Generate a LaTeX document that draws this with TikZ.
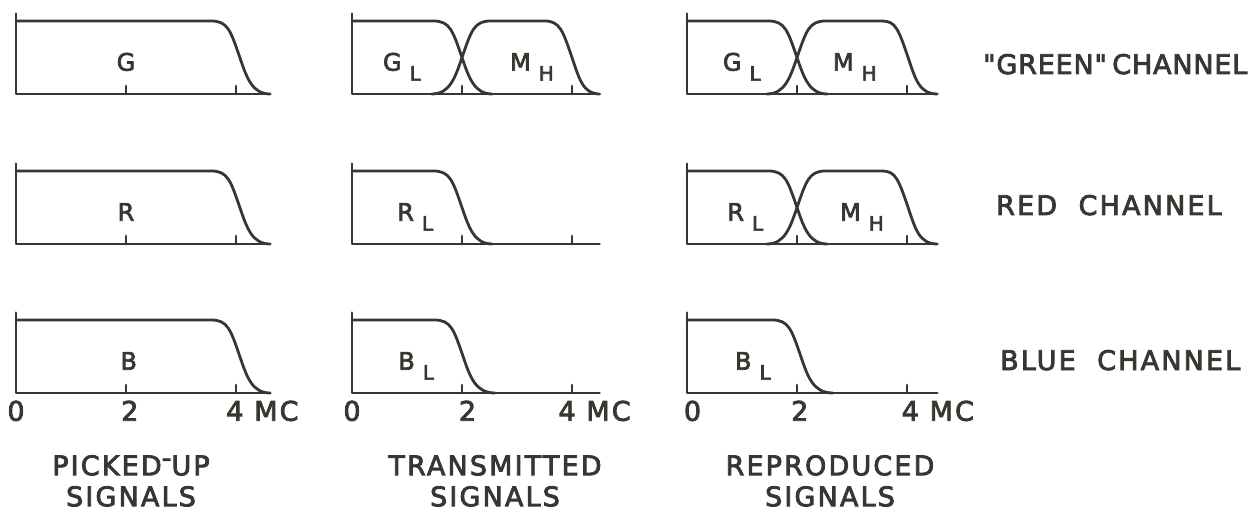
\documentclass[tikz,border=0pt]{standalone}
\usepackage{fontspec}
\setmainfont{DejaVu Sans}[LetterSpace=8, FakeBold=3]
\usepackage{tikz}
\usetikzlibrary{positioning}
\definecolor{inkline}{RGB}{55,55,50}
\newcommand{\sigsub}[1]{\hspace{8pt}\raisebox{-10pt}{\fontsize{20}{20}\selectfont #1}}

\begin{document}
\begin{tikzpicture}[x=1pt, y=1pt,
  curve/.style={line width=2.8pt, color=inkline, line cap=round, line join=round},
  lettering/.style={font=\fontsize{27}{31}\selectfont, text=inkline, inner sep=0pt},
  sig/.style={font=\fontsize{24}{26}\selectfont, text=inkline, inner sep=0pt,
    anchor=base west},
  graph/.style={x=55pt, y=73pt}]
\useasboundingbox (0,0) rectangle (1257,512);

% picked-up signals
\begin{scope}[shift={(16,418)}, graph]
\draw[curve] (0,1.1) -- (0,0) -- (4.62,0);
\draw[curve] (2,0) -- (2,0.11) (4,0) -- (4,0.11);
\draw[curve] (0,1) -- (3.55,1) .. controls (3.85,1) and (3.9,0.87) .. (4.07,0.5)
  .. controls (4.2,0.21) and (4.3,0) .. (4.62,0);
\node[sig, anchor=base] (g1) at (2,0.32) {G};
\end{scope}
\begin{scope}[shift={(16,268)}, graph]
\draw[curve] (0,1.1) -- (0,0) -- (4.62,0);
\draw[curve] (2,0) -- (2,0.11) (4,0) -- (4,0.11);
\draw[curve] (0,1) -- (3.55,1) .. controls (3.85,1) and (3.9,0.87) .. (4.07,0.5)
  .. controls (4.2,0.21) and (4.3,0) .. (4.62,0);
\node[sig, anchor=base] (r1) at (2,0.32) {R};
\end{scope}
\begin{scope}[shift={(16,119)}, graph]
\draw[curve] (0,1.1) -- (0,0) -- (4.62,0);
\draw[curve] (2,0) -- (2,0.11) (4,0) -- (4,0.11);
\draw[curve] (0,1) -- (3.55,1) .. controls (3.85,1) and (3.9,0.87) .. (4.07,0.5)
  .. controls (4.2,0.21) and (4.3,0) .. (4.62,0);
\node[sig, anchor=base] (b1) at (2.05,0.32) {B};
\node[lettering, anchor=base] (zero1) at (0,-0.38) {0};
\node[lettering, anchor=base] (two1) at (2.07,-0.38) {2};
\node[lettering, anchor=base west] (four1) at (3.82,-0.38) {4 MC};
\end{scope}

% transmitted signals
\begin{scope}[shift={(352,418)}, graph]
\draw[curve] (0,1.1) -- (0,0) -- (4.5,0);
\draw[curve] (2,0) -- (2,0.11) (4,0) -- (4,0.11);
\draw[curve] (0,1) -- (1.48,1) .. controls (1.78,1) and (1.83,0.87) .. (2,0.5)
  .. controls (2.13,0.21) and (2.23,0) .. (2.55,0);
\draw[curve] (1.45,0) .. controls (1.77,0) and (1.87,0.21) .. (2,0.5)
  .. controls (2.17,0.87) and (2.22,1) .. (2.52,1) -- (3.5,1)
  .. controls (3.78,1) and (3.83,0.87) .. (4,0.5)
  .. controls (4.13,0.21) and (4.2,0) .. (4.5,0);
\node[sig] (gl2) at (0.56,0.32) {G\sigsub{L}};
\node[sig] (mh2) at (2.87,0.32) {M\sigsub{H}};
\end{scope}
\begin{scope}[shift={(352,268)}, graph]
\draw[curve] (0,1.1) -- (0,0) -- (4.5,0);
\draw[curve] (2,0) -- (2,0.11) (4,0) -- (4,0.11);
\draw[curve] (0,1) -- (1.48,1) .. controls (1.78,1) and (1.83,0.87) .. (2,0.5)
  .. controls (2.13,0.21) and (2.23,0) .. (2.55,0);
\node[sig] (rl2) at (0.82,0.32) {R\sigsub{L}};
\end{scope}
\begin{scope}[shift={(352,119)}, graph]
\draw[curve] (0,1.1) -- (0,0) -- (4.5,0);
\draw[curve] (2,0) -- (2,0.11) (4,0) -- (4,0.11);
\draw[curve] (0,1) -- (1.5,1) .. controls (1.8,1) and (1.85,0.87) .. (2.02,0.5)
  .. controls (2.15,0.21) and (2.25,0) .. (2.6,0);
\node[sig] (bl2) at (0.84,0.32) {B\sigsub{L}};
\node[lettering, anchor=base] (zero2) at (0,-0.38) {0};
\node[lettering, anchor=base] (two2) at (2.1,-0.38) {2};
\node[lettering, anchor=base west] (four2) at (3.75,-0.38) {4 MC};
\end{scope}

% reproduced signals
\begin{scope}[shift={(687,418)}, graph]
\draw[curve] (0,1.1) -- (0,0) -- (4.55,0);
\draw[curve] (2,0) -- (2,0.11) (4,0) -- (4,0.11);
\draw[curve] (0,1) -- (1.48,1) .. controls (1.78,1) and (1.83,0.87) .. (2,0.5)
  .. controls (2.13,0.21) and (2.23,0) .. (2.55,0);
\draw[curve] (1.45,0) .. controls (1.77,0) and (1.87,0.21) .. (2,0.5)
  .. controls (2.17,0.87) and (2.22,1) .. (2.52,1) -- (3.55,1)
  .. controls (3.8,1) and (3.85,0.87) .. (4.02,0.5)
  .. controls (4.15,0.21) and (4.22,0) .. (4.55,0);
\node[sig] (gl3) at (0.65,0.32) {G\sigsub{L}};
\node[sig] (mh3) at (2.65,0.32) {M\sigsub{H}};
\end{scope}
\begin{scope}[shift={(687,268)}, graph]
\draw[curve] (0,1.1) -- (0,0) -- (4.55,0);
\draw[curve] (2,0) -- (2,0.11) (4,0) -- (4,0.11);
\draw[curve] (0,1) -- (1.48,1) .. controls (1.78,1) and (1.83,0.87) .. (2,0.5)
  .. controls (2.13,0.21) and (2.23,0) .. (2.55,0);
\draw[curve] (1.45,0) .. controls (1.77,0) and (1.87,0.21) .. (2,0.5)
  .. controls (2.17,0.87) and (2.22,1) .. (2.52,1) -- (3.55,1)
  .. controls (3.8,1) and (3.85,0.87) .. (4.02,0.5)
  .. controls (4.15,0.21) and (4.22,0) .. (4.55,0);
\node[sig] (rl3) at (0.73,0.32) {R\sigsub{L}};
\node[sig] (mh3b) at (2.78,0.32) {M\sigsub{H}};
\end{scope}
\begin{scope}[shift={(687,119)}, graph]
\draw[curve] (0,1.1) -- (0,0) -- (4.55,0);
\draw[curve] (2,0) -- (2,0.11) (4,0) -- (4,0.11);
\draw[curve] (0,1) -- (1.55,1) .. controls (1.85,1) and (1.9,0.87) .. (2.07,0.5)
  .. controls (2.2,0.21) and (2.3,0) .. (2.65,0);
\node[sig] (bl3) at (0.87,0.32) {B\sigsub{L}};
\node[lettering, anchor=base] (zero3) at (0.1,-0.38) {0};
\node[lettering, anchor=base] (two3) at (2.05,-0.38) {2};
\node[lettering, anchor=base west] (four3) at (3.9,-0.38) {4 MC};
\end{scope}

% column titles
\node[lettering, align=center, anchor=north] (pick) at (131,57)
  {PICKED\raisebox{.3em}{-}UP\\SIGNALS};
\node[lettering, align=center, anchor=north] (trans) at (495,57)
  {TRANSMITTED\\SIGNALS};
\node[lettering, align=center, anchor=north] (repro) at (830,57)
  {REPRODUCED\\SIGNALS};

% channel names
\node[lettering, anchor=base west] (green) at (983,438)
  {\addfontfeature{LetterSpace=3, Ligatures=TeXOff}"GREEN"\hspace{-4pt} CHANNEL};
\node[lettering, anchor=base west] (red) at (996,297) {RED\ \ CHANNEL};
\node[lettering, anchor=base west] (blue) at (1000,142) {BLUE\ \ CHANNEL};
\end{tikzpicture}
\end{document}
